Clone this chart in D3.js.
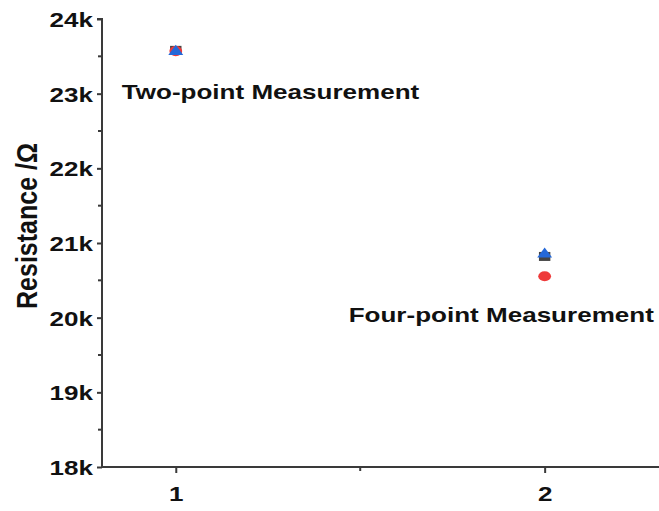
<!DOCTYPE html>
<html><head><meta charset="utf-8">
<script src="https://cdn.jsdelivr.net/npm/d3@7/dist/d3.min.js"></script>
<style>body{margin:0;background:#fff}svg{display:block}text{font-family:"Liberation Sans",Arial,sans-serif;font-weight:bold}</style>
</head><body><svg id="c" width="659" height="511"></svg>
<script>
const categories = [1, 2];
const squareVals = [23580, 20820];
const circleVals = [23570, 20555];
const triangleVals = [23565, 20850];
const yTicks = [18000, 19000, 20000, 21000, 22000, 23000, 24000];
const yTickLabels = ["18k","19k","20k","21k","22k","23k","24k"];
const xTicks = [1, 2];
const annotations = [
  {x: 1, y: 22930, text: "Two-point Measurement", dx: -54},
  {x: 2, y: 19940, text: "Four-point Measurement", dx: -196}
];

const SX = 1.27;       // horizontal stretch of the reference glyphs
const FS = 20.5;
const svg = d3.select("#c");
const x = d3.scaleLinear().domain([0.8, 2.31]).range([102, 659]);
const y = d3.scaleLinear().domain([18000, 24000]).range([467, 19]);
const axisColor = "#3a3a3a";

function stretch(sel) {
  sel.each(function() {
    const w = this.getComputedTextLength();
    d3.select(this).attr("textLength", w * SX).attr("lengthAdjust", "spacingAndGlyphs");
  });
}

// y axis
const yAxis = d3.axisLeft(y).tickValues(yTicks).tickFormat((d,i)=>yTickLabels[i]).tickSize(5).tickPadding(4);
const gy = svg.append("g").attr("transform", "translate(102,0)").call(yAxis);
gy.select(".domain").attr("stroke", axisColor).attr("stroke-width", 2).attr("d", `M-5,${y(24000)}H0V${y(18000)}`);
gy.selectAll(".tick line").attr("stroke", axisColor).attr("stroke-width", 2);
gy.selectAll(".tick text").attr("font-size", FS).attr("fill", "#111").attr("font-family", '"Liberation Sans",Arial,sans-serif').attr("font-weight","bold").attr("dy","0.36em").call(stretch);
const yMinor = d3.range(18500, 24000, 1000);
gy.selectAll(".minor").data(yMinor).enter().append("line")
  .attr("x1", -4).attr("x2", 0).attr("y1", d=>y(d)).attr("y2", d=>y(d))
  .attr("stroke", axisColor).attr("stroke-width", 2);

// x axis
const xAxis = d3.axisBottom(x).tickValues(xTicks).tickFormat(d3.format("d")).tickSize(6).tickPadding(13);
const gx = svg.append("g").attr("transform", `translate(0,${y(18000)})`).call(xAxis);
gx.select(".domain").attr("stroke", axisColor).attr("stroke-width", 2).attr("d", `M${x.range()[0]-1},0H${x.range()[1]}`);
gx.selectAll(".tick line").attr("stroke", axisColor).attr("stroke-width", 2);
gx.selectAll(".tick text").attr("font-size", FS).attr("fill", "#111").attr("font-family", '"Liberation Sans",Arial,sans-serif').attr("font-weight","bold").call(stretch);
gx.append("line").attr("x1", x(1.5)).attr("x2", x(1.5)).attr("y1", 0).attr("y2", 4)
  .attr("stroke", axisColor).attr("stroke-width", 2);

// y title
svg.append("text").attr("transform", `translate(37,226) scale(1.15,1) rotate(-90)`)
  .attr("text-anchor", "middle").attr("font-size", 25).attr("fill", "#111")
  .text("Resistance /Ω");

// series
svg.selectAll(".sq").data(categories).enter().append("path")
  .attr("transform", (d,i)=>`translate(${x(d)},${y(squareVals[i])}) scale(${SX},1)`)
  .attr("d", d3.symbol(d3.symbolSquare, 81)()).attr("fill", "#444");
svg.selectAll(".ci").data(categories).enter().append("path")
  .attr("transform", (d,i)=>`translate(${x(d)},${y(circleVals[i])}) scale(${SX},1)`)
  .attr("d", d3.symbol(d3.symbolCircle, 80)()).attr("fill", "#ee3a3a");
svg.selectAll(".tr").data(categories).enter().append("path")
  .attr("transform", (d,i)=>`translate(${x(d)},${y(triangleVals[i])}) scale(${SX},1)`)
  .attr("d", d3.symbol(d3.symbolTriangle, 60)()).attr("fill", "#2468d8");

// annotations
svg.selectAll(".ann").data(annotations).enter().append("text")
  .attr("x", d=>x(d.x)+d.dx).attr("y", d=>y(d.y))
  .attr("font-size", FS).attr("fill", "#111")
  .text(d=>d.text).call(stretch);
</script></body></html>
